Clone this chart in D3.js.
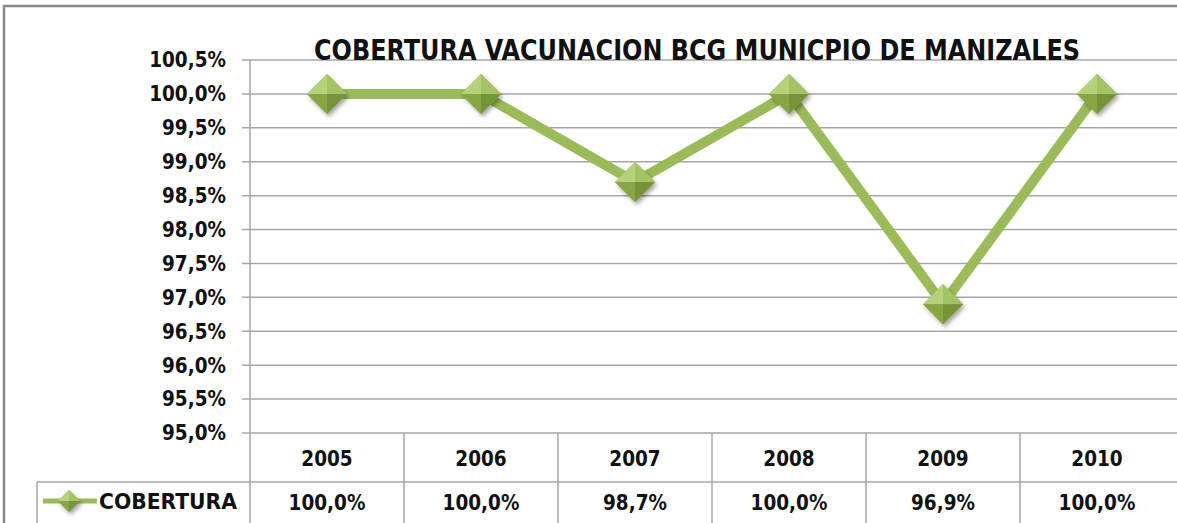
<!DOCTYPE html>
<html>
<head>
  <meta charset="UTF-8">
  <title>Cobertura BCG Manizales</title>
  <style>
    body { margin: 0; background: #fff; }
    text { font-family: "DejaVu Sans Condensed", "DejaVu Sans", sans-serif; font-weight: bold; fill: #111; }
  </style>
</head>
<body>
  <svg width="1177" height="523"></svg>
  <script src="https://d3js.org/d3.v7.min.js"></script>
  <script>
    // data
    const years = ['2005', '2006', '2007', '2008', '2009', '2010'];
    const cobertura = [100.0, 100.0, 98.7, 100.0, 96.9, 100.0];
    const yTicks = [95.0, 95.5, 96.0, 96.5, 97.0, 97.5, 98.0, 98.5, 99.0, 99.5, 100.0, 100.5];
    const seriesName = 'COBERTURA';
    const title = 'COBERTURA VACUNACION BCG MUNICPIO DE MANIZALES';

    const W = 1177, H = 523;
    const plotLeft = 250, plotTop = 60, plotBottom = 433, plotRight = 1174;
    const rowY = 482;

    const svg = d3.select('svg');

    // comma decimal format
    const locale = d3.formatLocale({ decimal: ',', thousands: '.', grouping: [3], currency: ['$', ''] });
    const fmt = d => locale.format('.1f')(d) + '%';

    const x = d3.scaleBand().domain(years).range([plotLeft, plotRight]);
    const y = d3.scaleLinear().domain([95, 100.5]).range([plotBottom, plotTop]);

    const defs = svg.append('defs');
    const sh = defs.append('filter').attr('id', 'shadow').attr('x', '-50%').attr('y', '-50%').attr('width', '200%').attr('height', '200%');
    sh.append('feDropShadow').attr('dx', 2).attr('dy', 3).attr('stdDeviation', 2).attr('flood-color', '#000').attr('flood-opacity', 0.35);

    // outer chart border
    svg.append('path')
      .attr('d', `M4,${H} L4,6 L${W},6`)
      .attr('fill', 'none').attr('stroke', '#8a8a8a').attr('stroke-width', 2.5);

    // gridlines + ticks
    svg.append('g').selectAll('line').data(yTicks).join('line')
      .attr('x1', plotLeft - 8).attr('x2', W)
      .attr('y1', d => y(d)).attr('y2', d => y(d))
      .attr('stroke', '#a6a6a6').attr('stroke-width', 1.5);

    // y axis labels
    svg.append('g').selectAll('text').data(yTicks).join('text')
      .attr('x', 226).attr('y', d => y(d)).attr('dy', '0.36em')
      .attr('text-anchor', 'end').attr('font-size', 20.5)
      .text(d => fmt(d));

    // table lines
    svg.append('line').attr('x1', 37).attr('x2', W).attr('y1', rowY).attr('y2', rowY)
      .attr('stroke', '#a6a6a6').attr('stroke-width', 1.5);
    svg.append('line').attr('x1', 37).attr('x2', 37).attr('y1', rowY).attr('y2', H)
      .attr('stroke', '#a6a6a6').attr('stroke-width', 1.5);
    svg.append('line').attr('x1', plotLeft).attr('x2', plotLeft).attr('y1', plotTop).attr('y2', H)
      .attr('stroke', '#a6a6a6').attr('stroke-width', 1.5);
    svg.append('g').selectAll('line').data(years.slice(0, -1)).join('line')
      .attr('x1', d => x(d) + x.bandwidth())
      .attr('x2', d => x(d) + x.bandwidth())
      .attr('y1', plotBottom).attr('y2', H)
      .attr('stroke', '#a6a6a6').attr('stroke-width', 1.5);

    // year row
    svg.append('g').selectAll('text').data(years).join('text')
      .attr('x', d => x(d) + x.bandwidth() / 2).attr('y', 459).attr('dy', '0.36em')
      .attr('text-anchor', 'middle').attr('font-size', 20.5)
      .text(d => d);

    // value row
    svg.append('g').selectAll('text').data(cobertura).join('text')
      .attr('x', (d, i) => x(years[i]) + x.bandwidth() / 2).attr('y', 503).attr('dy', '0.36em')
      .attr('text-anchor', 'middle').attr('font-size', 20.5)
      .text(d => fmt(d));

    // diamond marker with facets
    function diamond(g, r) {
      g.append('path').attr('d', `M${-r},0 L0,${-r} L${r},0 L0,${r} Z`).attr('fill', '#8aab45').attr('filter', 'url(#shadow)');
      g.append('path').attr('d', `M${-r},0 L0,${-r} L0,0 Z`).attr('fill', '#b3d27a');
      g.append('path').attr('d', `M0,${-r} L${r},0 L0,0 Z`).attr('fill', '#a3c465');
      g.append('path').attr('d', `M${r},0 L0,${r} L0,0 Z`).attr('fill', '#76943a');
      g.append('path').attr('d', `M0,${r} L${-r},0 L0,0 Z`).attr('fill', '#86a742');
    }

    // line
    const line = d3.line().x((d, i) => x(years[i]) + x.bandwidth() / 2).y(d => y(d));
    svg.append('path').datum(cobertura)
      .attr('d', line).attr('fill', 'none')
      .attr('stroke', '#9bbb59').attr('stroke-width', 10).attr('stroke-linejoin', 'miter');

    svg.append('g').selectAll('g').data(cobertura).join('g')
      .attr('transform', (d, i) => `translate(${x(years[i]) + x.bandwidth() / 2},${y(d)})`)
      .each(function() { diamond(d3.select(this), 20); });

    // legend key
    svg.append('line').attr('x1', 43).attr('x2', 97).attr('y1', 501).attr('y2', 501)
      .attr('stroke', '#9bbb59').attr('stroke-width', 5);
    diamond(svg.append('g').attr('transform', 'translate(69,501)'), 11);
    svg.append('text').attr('x', 99).attr('y', 501).attr('dy', '0.36em')
      .attr('font-size', 21).attr('textLength', 138).attr('lengthAdjust', 'spacingAndGlyphs')
      .text(seriesName);

    // title
    svg.append('text').attr('x', 697).attr('y', 60)
      .attr('text-anchor', 'middle').attr('font-size', 28)
      .attr('textLength', 766).attr('lengthAdjust', 'spacingAndGlyphs')
      .text(title);
  </script>
</body>
</html>
